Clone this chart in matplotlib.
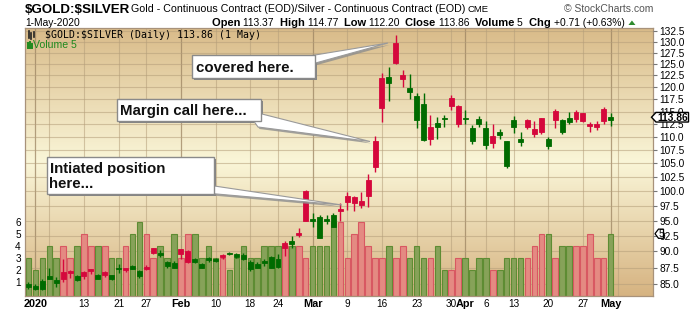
import numpy as np
import pandas as pd
import matplotlib
matplotlib.use("Agg")
import matplotlib.pyplot as plt
from matplotlib.colors import LinearSegmentedColormap
from matplotlib.patches import Rectangle, Polygon
from matplotlib.ticker import FixedLocator, NullLocator, NullFormatter
from matplotlib.transforms import blended_transform_factory

plt.rcParams['font.family'] = ['Liberation Sans', 'DejaVu Sans']

# ---------------- data ----------------
holidays = ["2020-01-01", "2020-01-20", "2020-02-17", "2020-04-10"]
dates = pd.bdate_range("2019-12-31", "2020-05-01").drop(pd.to_datetime(holidays))
future_dates = pd.bdate_range("2020-05-04", "2020-05-08")

opens = [84.6, 84.3, 84.3, 85.75, 85.1, 86.8, 86.95, 85.6, 86.8, 87.25,
         85.8, 86.8, 85.8, 87.3, 87.45, 87.3, 86.15, 87.55, 90.5, 89.5,
         87.8, 87.5, 90.4, 90.1, 88.3, 87.45, 88.7, 88.55, 89.45, 89.65,
         89.1, 88.8, 87.25, 87.45, 88.25, 87.5, 87.6, 91.4, 91.15, 92.9,
         100.05, 95.0, 92.2, 94.95, 93.95, 96.95, 99.15, 98.95, 98.3, 102.0,
         109.25, 121.9, 121.0, 129.75, 122.6, 119.0, 113.35, 109.4, 111.95, 111.85,
         113.5, 117.75, 116.1, 113.5, 109.25, 112.55, 108.45, 110.2, 110.4, 104.6,
         112.0, 109.1, 113.3, 111.55, 113.7, 108.2, 115.1, 110.95, 112.9, 114.9,
         114.7, 112.5, 112.5, 115.5, 113.37]
highs = [85.3, 84.95, 85.7, 87.4, 86.0, 88.75, 87.1, 86.35, 86.95, 87.3,
         86.5, 86.9, 86.4, 88.1, 87.5, 87.9, 87.1, 87.9, 90.6, 90.2,
         88.5, 88.5, 90.45, 90.2, 89.0, 88.2, 89.15, 88.9, 89.55, 89.95,
         89.8, 89.7, 88.65, 88.3, 88.85, 89.25, 89.6, 91.7, 92.45, 93.8,
         100.2, 96.3, 95.9, 95.9, 96.3, 97.9, 99.9, 99.25, 99.8, 103.1,
         110.2, 122.95, 124.4, 131.5, 123.75, 122.8, 118.85, 118.85, 114.3, 113.9,
         114.3, 118.35, 116.3, 115.3, 112.3, 114.15, 113.1, 112.5, 111.5, 109.3,
         114.1, 110.95, 113.5, 113.1, 113.75, 110.0, 115.55, 113.5, 114.9, 115.3,
         114.75, 112.9, 113.1, 115.9, 114.77]
lows = [84.3, 84.1, 84.1, 85.7, 84.5, 85.35, 85.85, 85.4, 85.8, 86.5,
        85.7, 86.1, 85.6, 86.7, 86.85, 87.2, 85.85, 87.1, 89.55, 89.15,
        87.45, 87.35, 88.75, 88.2, 88.15, 87.4, 88.35, 88.35, 88.85, 89.5,
        88.9, 88.65, 87.0, 87.35, 87.7, 87.35, 87.45, 89.3, 90.6, 92.25,
        94.9, 94.0, 92.2, 94.4, 93.95, 94.95, 96.85, 96.65, 97.2, 97.35,
        103.5, 112.9, 117.2, 125.0, 120.1, 117.55, 111.8, 109.2, 108.5, 109.65,
        111.95, 115.35, 112.0, 112.5, 108.7, 112.0, 107.7, 107.95, 109.65, 104.25,
        110.8, 108.2, 111.5, 109.95, 110.6, 107.75, 111.8, 110.55, 112.55, 112.9,
        112.9, 111.0, 111.35, 112.55, 112.20]
closes = [85.0, 84.7, 85.45, 86.2, 85.6, 85.8, 86.65, 86.2, 86.15, 86.9,
          86.35, 86.3, 86.35, 87.4, 87.1, 87.7, 86.9, 87.2, 89.8, 89.8,
          88.4, 88.25, 89.55, 88.4, 88.85, 88.1, 88.95, 88.8, 89.1, 89.75,
          89.55, 89.4, 88.3, 88.0, 88.5, 89.05, 88.8, 90.6, 91.7, 92.7,
          95.0, 95.25, 95.6, 95.25, 95.95, 96.65, 98.2, 97.9, 97.6, 99.2,
          104.4, 115.75, 122.1, 125.15, 121.75, 119.85, 118.2, 116.5, 109.65, 112.65,
          113.75, 116.15, 112.6, 113.75, 111.7, 113.5, 111.7, 108.75, 110.9, 109.2,
          113.3, 109.6, 112.0, 110.6, 110.9, 109.6, 113.4, 113.3, 113.7, 113.5,
          113.1, 112.1, 111.9, 113.15, 113.86]
volumes = [3, 2, 3, 4, 3, 4, 3, 4, 5, 4,
           4, 4, 3, 3, 4, 5, 6, 5, 3, 4,
           3, 5, 3, 5, 5, 3, 4, 3, 3, 2,
           3, 4, 3, 3, 4, 4, 4, 4, 4, 4,
           3, 4, 4, 4, 6, 6, 3, 5, 6, 4,
           3, 3, 4, 3, 4, 3, 4, 3, 3, 4,
           2, 2, 3, 3, 2, 3, 3, 2, 2, 3,
           3, 3, 3, 4, 5, 5, 3, 4, 4, 4,
           4, 5, 3, 3, 5]

price_ticks = [85.0, 87.5, 90.0, 92.5, 95.0, 97.5, 100.0, 102.5, 105.0, 107.5,
               110.0, 112.5, 115.0, 117.5, 120.0, 122.5, 125.0, 127.5, 130.0, 132.5]
volume_ticks = [1, 2, 3, 4, 5, 6]
tick_dates = ["2020-01-02", "2020-01-13", "2020-01-21", "2020-01-27", "2020-02-03",
              "2020-02-10", "2020-02-18", "2020-02-24", "2020-03-02", "2020-03-09",
              "2020-03-16", "2020-03-23", "2020-03-30", "2020-04-01", "2020-04-06",
              "2020-04-13", "2020-04-20", "2020-04-27", "2020-05-01"]
tick_labels = ["2020", "13", "21", "27", "Feb", "10", "18", "24", "Mar", "9",
               "16", "23", "30", "Apr", "6", "13", "20", "27", "May"]
bold_labels = {"2020", "Feb", "Mar", "Apr", "May"}

# ---------------- style ----------------
W, H = 700, 312
GREEN, RED = "#006B00", "#D5073C"
VGF, VGE = "#87A259", "#5E8C33"
VRF, VRE = "#E48A82", "#D85862"
SPINE = "#A8927A"

fig = plt.figure(figsize=(W / 100, H / 100), dpi=100)
fig.patch.set_facecolor("white")
rect = [25 / W, (H - 296) / H, 628 / W, 268 / H]

# gradient background
bg = fig.add_axes(rect, zorder=0)
cm = LinearSegmentedColormap.from_list(
    "bg", [(0.0, "#D9BB89"), (0.5, "#FAF6D8"), (1.0, "#D6B381")])
grad = np.linspace(0, 1, 256).reshape(-1, 1)
bg.imshow(grad, aspect="auto", cmap=cm, extent=[0, 1, 0, 1], origin="upper")
bg.set_xlim(0, 1); bg.set_ylim(0, 1); bg.axis("off")

n = len(dates)
x = np.arange(n)
o = np.array(opens); c = np.array(closes)
hi = np.array(highs); lo = np.array(lows)
vol = np.array(volumes)
up = c >= o

xlim = (-0.505, 90.11)

# volume axes
axv = fig.add_axes(rect, zorder=1)
axv.set_facecolor("none")
axv.set_xlim(*xlim)
vbot = -0.19
axv.set_ylim(vbot, 22.14)

# price axes
axp = axv.twinx()
axp.set_yscale("log")
axp.set_ylim(83.24, 133.13)
axp.set_xlim(*xlim)

# grid lines
all_dates = dates.append(future_dates)
for i in range(1, len(all_dates)):
    d, p = all_dates[i], all_dates[i - 1]
    if d.month != p.month:
        axv.axvline(i, color="#9C8462", lw=0.9, alpha=0.75, zorder=0.5)
    elif d.isocalendar()[1] != p.isocalendar()[1]:
        axv.axvline(i, color="#B49E7A", lw=0.8, alpha=0.55, zorder=0.5)
blend = blended_transform_factory(axv.transAxes, axp.transData)
for t in price_ticks:
    axv.plot([0, 1], [t, t], transform=blend, color="#B49E7A", lw=0.8,
             alpha=0.55, zorder=0.5)

# volume bars
axv.bar(x, vol - vbot, bottom=vbot, width=0.8,
        color=np.where(up, VGF, VRF), edgecolor=np.where(up, VGE, VRE),
        lw=0.8, zorder=2)

# candles
col = np.where(up, GREEN, RED)
axp.vlines(x, lo, hi, colors=col, lw=1.0, zorder=3)
axp.bar(x, np.abs(c - o), bottom=np.minimum(o, c), width=0.72, color=col,
        edgecolor=col, lw=0.6, zorder=4)

# axes styling
for s in axp.spines.values():
    s.set_visible(False)
for s in axv.spines.values():
    s.set_color(SPINE); s.set_linewidth(0.9)

axv.set_yticks(volume_ticks)
axv.set_yticklabels([str(v) for v in volume_ticks])
axv.tick_params(axis="y", length=0, pad=3, labelsize=7.2)
tick_pos = [dates.get_loc(pd.Timestamp(d)) for d in tick_dates]
axv.set_xticks(tick_pos)
axv.set_xticklabels(tick_labels)
axv.tick_params(axis="x", length=0, pad=2.5)
for lab in axv.get_xticklabels():
    if lab.get_text() in bold_labels:
        lab.set_fontweight("bold"); lab.set_fontsize(7.8)
    else:
        lab.set_fontsize(7.2)

axp.yaxis.set_major_locator(FixedLocator(price_ticks))
axp.yaxis.set_minor_locator(NullLocator())
axp.yaxis.set_minor_formatter(NullFormatter())
axp.set_yticklabels(["%.1f" % t for t in price_ticks])
axp.tick_params(axis="y", length=3, width=0.8, color="#777777", pad=1.5,
                labelsize=7.3)

# ---------------- overlay (pixel coordinates) ----------------
ov = fig.add_axes([0, 0, 1, 1], zorder=5)
ov.set_xlim(0, W); ov.set_ylim(H, 0); ov.axis("off")
renderer = fig.canvas.get_renderer()


def txt(x0, y0, s, **kw):
    return ov.text(x0, y0, s, parse_math=False, **kw)


txt(25, 13.3, "$GOLD:$SILVER", fontsize=9.6, fontweight="bold", va="baseline")
txt(131, 12.3, "Gold - Continuous Contract (EOD)/Silver - Continuous Contract (EOD)",
    fontsize=7.7, va="baseline")
txt(468, 12.3, "CME", fontsize=6.8, va="baseline")
txt(653, 12.3, "\u00a9 StockCharts.com", fontsize=7.5, color="#555555",
    va="baseline", ha="right")
txt(25, 26.5, "1-May-2020", fontsize=7.4, va="baseline")

pieces = [("Open ", True), ("113.37  ", False), ("High ", True), ("114.77  ", False),
          ("Low ", True), ("112.20  ", False), ("Close ", True), ("113.86  ", False),
          ("Volume ", True), ("5  ", False), ("Chg ", True), ("+0.71 (+0.63%) ", False)]
xp = 211.7
for s, b in pieces:
    t = txt(xp, 26.3, s, fontsize=8.0 if b else 7.4,
            fontweight="bold" if b else "normal", va="baseline")
    xp += t.get_window_extent(renderer).width
ov.add_patch(Polygon([(xp + 1, 25), (xp + 4.5, 20.5), (xp + 8, 25)], closed=True,
                     fc="#2E8B2E", ec="none"))

# in-plot legend
txt(45, 38.5, "$GOLD:$SILVER (Daily) 113.86 (1 May)", fontsize=7.1,
    family="DejaVu Sans Mono", va="baseline")
for dx, (y0, y1) in zip([28.5, 31, 33.5], [(31, 38), (32.5, 38.5), (31.5, 37)]):
    ov.plot([dx, dx], [y0, y1], color="#222222", lw=1.2)
txt(33, 47.5, "Volume 5", fontsize=7.6, color="#1E8A1E", va="baseline")
for dx, yt in zip([27.5, 29.5, 31.5], [43, 41.5, 44]):
    ov.plot([dx, dx], [yt, 47.5], color="#1E8A1E", lw=1.4)

# last price marker (right axis)
yp = H - axp.transData.transform((0, closes[-1]))[1]
ov.add_patch(Polygon([(651.5, yp), (656, yp - 4.8), (688.5, yp - 4.8),
                      (688.5, yp + 4.8), (656, yp + 4.8)], closed=True,
                     fc="white", ec="black", lw=1.0, zorder=6))
txt(672.5, yp + 0.3, "%.2f" % closes[-1], fontsize=7.4, fontweight="bold",
    ha="center", va="center", zorder=7)
yv = H - axv.transData.transform((0, volumes[-1]))[1]
ov.add_patch(Polygon([(655, yv), (658.5, yv - 4.6), (663.5, yv - 4.6),
                      (663.5, yv + 4.6), (658.5, yv + 4.6)], closed=True,
                     fc="white", ec="black", lw=0.9, zorder=6))
txt(661, yv + 0.3, str(volumes[-1]), fontsize=7, ha="center", va="center",
    zorder=7)


# callouts
def callout(box, wedge, lines):
    x0, y0, x1, y1 = box
    ov.add_patch(Polygon([(px + 1.5, py + 2) for px, py in wedge], closed=True,
                         fc="#8e8e8e", ec="none", alpha=0.8, zorder=2))
    ov.add_patch(Rectangle((x0 + 2, y0 + 2), x1 - x0, y1 - y0, fc="#858585",
                           ec="none", zorder=2))
    ov.add_patch(Polygon(wedge, closed=True, fc="white", ec="#9a9a9a", lw=0.8,
                         zorder=3))
    ov.add_patch(Rectangle((x0, y0), x1 - x0, y1 - y0, fc="white", ec="#8a8a8a",
                           lw=1.0, zorder=4))
    for (tx, ty, s) in lines:
        txt(tx, ty, s, fontsize=10.8, fontweight="bold", va="baseline",
            color="#111111", zorder=5)


callout((192.3, 54.5, 315, 78),
        [(312, 55.5), (388, 43), (312, 64)],
        [(195.7, 71.7, "covered here.")])
callout((116.7, 99.3, 260.7, 121.3),
        [(253, 120), (260, 113.5), (370, 141.5), (258, 127)],
        [(119.5, 115.2, "Margin call here...")])
callout((46.7, 156.7, 213.7, 194.3),
        [(211, 185.5), (342, 205), (211, 193.5)],
        [(49.5, 172.5, "Intiated position"), (49.5, 188.5, "here...")])

fig.savefig("out.png", dpi=100)
